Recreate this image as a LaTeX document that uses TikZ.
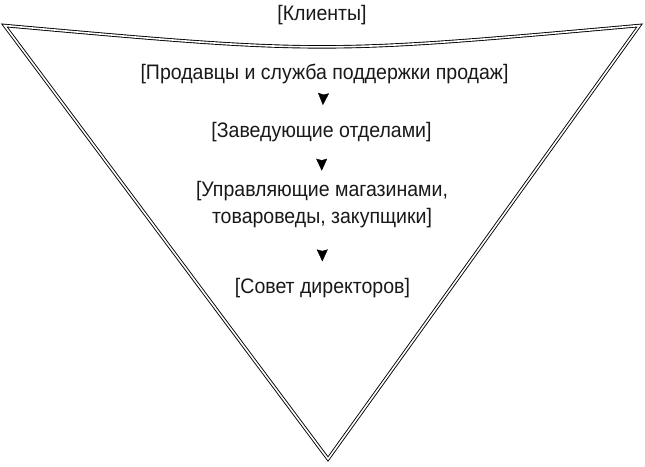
\documentclass[tikz,border=0pt]{standalone}
\usepackage{fontspec}
\setmainfont{Liberation Sans}[FakeStretch=0.93]
\usepackage{tikz}
\usetikzlibrary{arrows.meta,decorations.markings}

\tikzset{
  level/.style={inner sep=0pt, align=center, text=black!90, font=\fontsize{21}{27}\selectfont},
  tip at/.style={postaction={decorate},
    decoration={markings, mark=at position #1 with {\arrow{Stealth[width=11pt,length=12pt,inset=1.5pt]}}}},
  funnel/.style={double, line width=0.9pt, double distance=1.6pt, line join=miter}
}

\begin{document}
\begin{tikzpicture}[x=1pt,y=-1pt]
\useasboundingbox (0,0) rectangle (645,466);
% funnel outline
\draw [funnel] (4.5,25.5) .. controls (322,54) .. (639.5,25.5) -- (328,459) -- cycle;
% levels
\node [level] (clients) at (322,15) {[Клиенты]};
\node [level] (sales) at (324.5,73.5) {[Продавцы и служба поддержки продаж]};
\node [level] (heads) at (321.5,132) {[Заведующие отделами]};
\node [level] (managers) at (322,205) {[Управляющие магазинами,\\ товароведы, закупщики]};
\node [level] (board) at (322.5,288) {[Совет директоров]};
% arrows
\path [tip at=0.54] (sales.center) -- (heads.center);
\path [tip at=0.53] (heads.center) -- (managers.center);
\path [tip at=0.68] (managers.center) -- (board.center);
\end{tikzpicture}
\end{document}
